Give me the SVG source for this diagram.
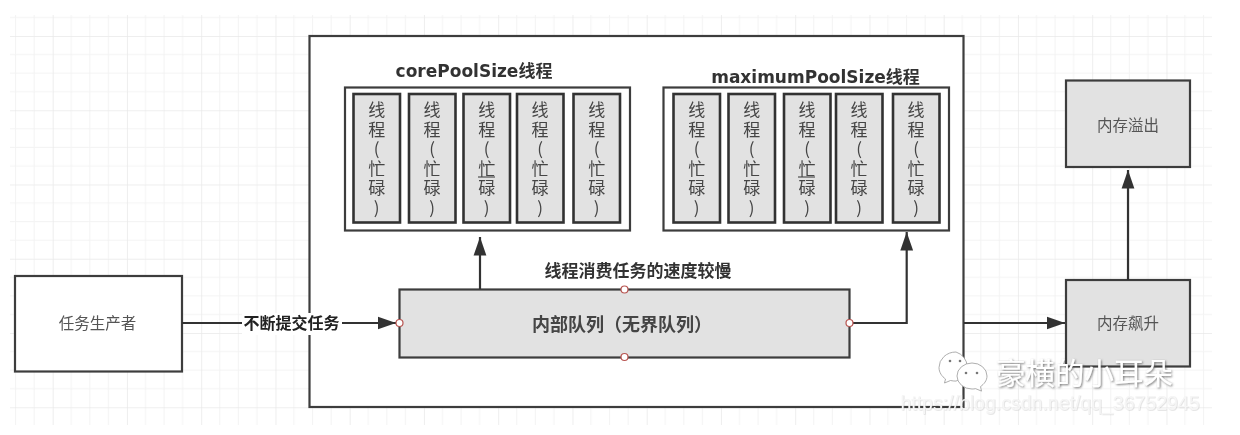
<svg xmlns="http://www.w3.org/2000/svg" width="1240" height="435" viewBox="0 0 1240 435">
<style>
text{font-family:"Noto Sans CJK SC","Liberation Sans",sans-serif;text-anchor:middle;fill:#333}
.box{fill:#fff;stroke:#3c3c3c;stroke-width:2.2}
.gray{fill:#e2e2e2;stroke:#3c3c3c;stroke-width:2.2}
.thread{fill:#e2e2e2;stroke:#333;stroke-width:2.6}
text.t{font-size:17px;fill:#444;writing-mode:vertical-rl;text-orientation:upright;letter-spacing:2.6px;text-anchor:start}
.n{font-size:15.5px;fill:#555}
.title{font-family:"DejaVu Sans","Noto Sans CJK SC",sans-serif;font-weight:700;font-size:17px;fill:#333}
.b{font-weight:700;fill:#222}
.c{fill:none;stroke:#333;stroke-width:2.200}
.port{fill:#fff;stroke:#b85450;stroke-width:1.200}
.ul{stroke:#333;stroke-width:1}
</style>
<defs>
<pattern id="g" x="52.700" y="36" width="74.250" height="74.250" patternUnits="userSpaceOnUse">
<path d="M18.560 0V74.250M37.120 0V74.250M55.690 0V74.250M0 18.560H74.250M0 37.120H74.250M0 55.690H74.250" fill="none" stroke="#f3f3f3" stroke-width="1"/>
<path d="M0 0V74.250M0 0H74.250" fill="none" stroke="#e9e9e9" stroke-width="1.500"/>
</pattern>
<marker id="a" markerUnits="userSpaceOnUse" markerWidth="20" markerHeight="14" refX="18.500" refY="7" orient="auto"><path d="M0 0.600L18.500 7L0 13.400Z" fill="#333"/></marker>
<filter id="soft" filterUnits="userSpaceOnUse" x="0" y="0" width="1240" height="435"><feGaussianBlur stdDeviation="0.400"/></filter>
<filter id="wm" x="-5%" y="-20%" width="110%" height="140%"><feDropShadow dx="1" dy="1" stdDeviation="0.800" flood-color="#555" flood-opacity="0.800"/></filter>
<filter id="wm2" x="-5%" y="-20%" width="110%" height="140%"><feDropShadow dx="0.600" dy="0.600" stdDeviation="0.600" flood-color="#999" flood-opacity="0.400"/></filter>
</defs>
<rect width="1240" height="435" fill="#fff"/>
<g filter="url(#soft)">
<rect x="10" y="15" width="1202" height="410" fill="url(#g)"/>

<g id="outer"><rect class="box" x="309.500" y="36" width="654" height="371"/></g>

<g id="core-pool">
<rect class="box" x="345" y="87.500" width="285" height="143"/>
<text class="title" x="474" y="77">corePoolSize线程</text>
</g>
<g id="core-t1"><rect class="thread" x="353.500" y="94" width="46.500" height="128.500"/><text class="t" x="376.700" y="101">线程(忙碌)</text></g>
<g id="core-t2"><rect class="thread" x="409" y="94" width="46.500" height="128.500"/><text class="t" x="432" y="101">线程(忙碌)</text></g>
<g id="core-t3"><rect class="thread" x="463.500" y="94" width="46.500" height="128.500"/><line class="ul" x1="478" y1="177" x2="495" y2="177"/><text class="t" x="486.700" y="101">线程(忙碌)</text></g>
<g id="core-t4"><rect class="thread" x="517" y="94" width="46.500" height="128.500"/><text class="t" x="540" y="101">线程(忙碌)</text></g>
<g id="core-t5"><rect class="thread" x="573.500" y="94" width="46.500" height="128.500"/><text class="t" x="596.700" y="101">线程(忙碌)</text></g>

<g id="max-pool">
<rect class="box" x="663.500" y="87.500" width="285.500" height="143"/>
<text class="title" x="815.500" y="83">maximumPoolSize线程</text>
</g>
<g id="max-t1"><rect class="thread" x="673.500" y="94" width="46.500" height="128.500"/><text class="t" x="696.700" y="101">线程(忙碌)</text></g>
<g id="max-t2"><rect class="thread" x="728.500" y="94" width="46.500" height="128.500"/><text class="t" x="751.700" y="101">线程(忙碌)</text></g>
<g id="max-t3"><rect class="thread" x="784" y="94" width="46.500" height="128.500"/><line class="ul" x1="798" y1="177" x2="815" y2="177"/><text class="t" x="807" y="101">线程(忙碌)</text></g>
<g id="max-t4"><rect class="thread" x="836" y="94" width="46.500" height="128.500"/><text class="t" x="859" y="101">线程(忙碌)</text></g>
<g id="max-t5"><rect class="thread" x="893" y="94" width="46.500" height="128.500"/><text class="t" x="916" y="101">线程(忙碌)</text></g>

<g id="producer"><rect class="box" x="15" y="276" width="167" height="95.500"/><text class="n" x="97.500" y="329">任务生产者</text></g>
<g id="queue"><rect class="gray" x="399.500" y="289.500" width="450" height="68"/><text class="b" x="622" y="331" font-size="18" style="fill:#444">内部队列（无界队列）</text></g>
<g id="mem-up"><rect class="gray" x="1066" y="280" width="124" height="86.500"/><text class="n" x="1128" y="329">内存飙升</text></g>
<g id="mem-overflow"><rect class="gray" x="1066" y="80.500" width="124" height="86.500"/><text class="n" x="1128" y="130.500">内存溢出</text></g>

<g id="connectors">
<path class="c" d="M182 323H396" marker-end="url(#a)"/>
<path class="c" d="M480 289V237" marker-end="url(#a)"/>
<path class="c" d="M850 323H906.700V232" marker-end="url(#a)"/>
<path class="c" d="M964 323H1065" marker-end="url(#a)"/>
<path class="c" d="M1128 280V170" marker-end="url(#a)"/>
<rect x="242" y="313" width="100" height="22" fill="#fff"/>
<text class="b" x="291.500" y="329" font-size="16">不断提交任务</text>
<text class="b" x="638" y="277" font-size="17" style="fill:#333">线程消费任务的速度较慢</text>
</g>
<g id="ports">
<circle class="port" cx="399.500" cy="323" r="3.500"/>
<circle class="port" cx="849.500" cy="323" r="3.500"/>
<circle class="port" cx="624.500" cy="289.500" r="3.500"/>
<circle class="port" cx="624.500" cy="357" r="3.500"/>
</g>
<g id="watermark">
<g fill="#fff" stroke="#999" stroke-width="0.800">
<path d="M956 352a17 15.500 0 0 0-17 15.500c0 5 3 9 6.500 11.500l-1 4 6-2.500c1.800 .4 3.500 .6 5.500 .6a17 15.500 0 0 0 0-29.100z"/>
<path d="M972 363a15 13 0 0 0-15 13a15 13 0 0 0 15 13c1.500 0 2.500-.1 3.500-.4l6 2.500-1-4.500c3.500-2.500 6.500-6 6.500-10.600a15 13 0 0 0-15-13z"/>
</g>
<circle cx="950" cy="361" r="1.300" fill="#777"/><circle cx="960" cy="361" r="1.300" fill="#777"/>
<circle cx="966" cy="373" r="1.300" fill="#777"/><circle cx="977" cy="373" r="1.300" fill="#777"/>
<text x="1084.500" y="384" font-size="29.500" style="fill:#fff" filter="url(#wm)">豪横的小耳朵</text>
<text x="1050" y="410" font-size="19.500" style="font-family:'Liberation Sans',sans-serif;fill:#f6f6f6" filter="url(#wm2)">https://blog.csdn.net/qq_36752945</text>
</g>
</g>
</svg>
